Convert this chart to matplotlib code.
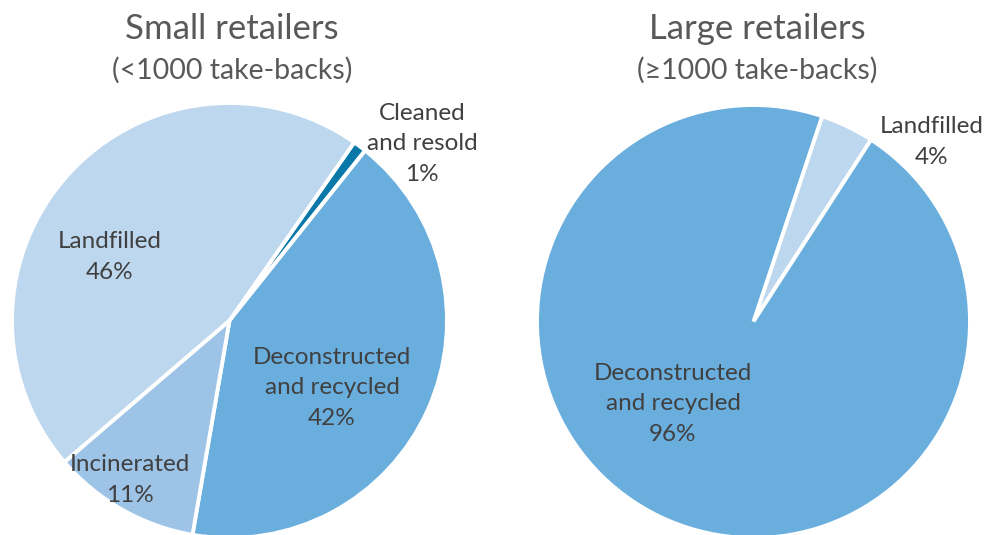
import matplotlib.pyplot as plt

plt.rcParams['font.family'] = ['Lato', 'DejaVu Sans']

# Small retailers (<1000 take-backs)
small_labels = ["Cleaned\nand resold", "Deconstructed\nand recycled", "Incinerated", "Landfilled"]
small_values = [1, 42, 11, 46]

# Large retailers (>=1000 take-backs)
large_labels = ["Landfilled", "Deconstructed\nand recycled"]
large_values = [4, 96]

titles = ["Small retailers", "Large retailers"]
subtitles = ["(<1000 take-backs)", "(\u22651000 take-backs)"]

LIGHT = "#BDD7EE"
MID = "#6AAEDE"
INC = "#9DC3E6"
DARK = "#0A78A9"
TEXT = "#404040"
TITLE = "#595959"

W, H = 1001, 535
fig = plt.figure(figsize=(W / 100, H / 100), dpi=100)
ax = fig.add_axes([0, 0, 1, 1])

def py(y):
    # pixel row -> data y (axis runs bottom-up)
    return H - y

wp = dict(edgecolor="white", linewidth=2.8)

ax.pie(small_values, colors=[DARK, MID, INC, LIGHT], startangle=55,
       counterclock=False, center=(229.5, py(320.5)), radius=217.5,
       wedgeprops=wp, frame=True)
ax.pie(large_values, colors=[LIGHT, MID], startangle=71.5,
       counterclock=False, center=(753.5, py(321.5)), radius=216.5,
       wedgeprops=wp, frame=True)

ax.set_xlim(0, W)
ax.set_ylim(0, H)
ax.set_aspect('equal')
ax.axis('off')

# slice labels
small_pos = [(422, 144), (332, 388), (130, 480), (110, 257)]
for lab, v, (x, y) in zip(small_labels, small_values, small_pos):
    ax.text(x, py(y), f"{lab}\n{v}%", ha='center', va='center', fontsize=17.5,
            color=TEXT, linespacing=1.55)

large_pos = [(932, 142), (673, 404)]
for lab, v, (x, y) in zip(large_labels, large_values, large_pos):
    ax.text(x, py(y), f"{lab}\n{v}%", ha='center', va='center', fontsize=17.5,
            color=TEXT, linespacing=1.55)

for cx, t, s in zip([232, 757], titles, subtitles):
    ax.text(cx, py(29), t, ha='center', va='center', fontsize=25, color=TITLE)
    ax.text(cx, py(70), s, ha='center', va='center', fontsize=20.5, color=TITLE)

fig.savefig("out.png", dpi=100)
